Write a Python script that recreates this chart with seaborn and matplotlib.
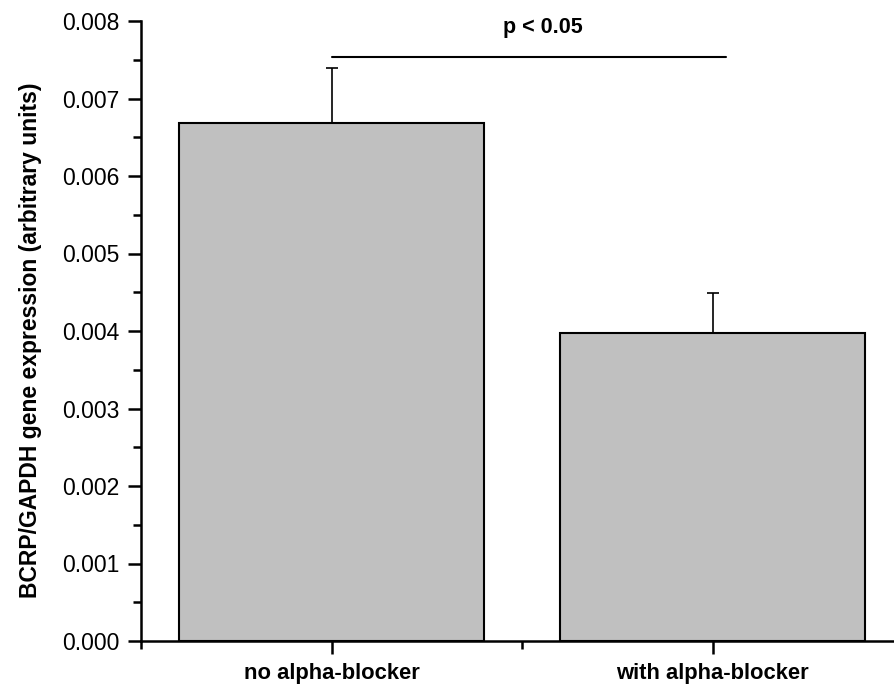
import matplotlib
matplotlib.use("Agg")
import matplotlib.pyplot as plt
from matplotlib.ticker import MultipleLocator, FixedLocator, FormatStrFormatter
import seaborn as sns
import pandas as pd

categories = ["no alpha-blocker", "with alpha-blocker"]
values = [0.00668, 0.00397]
errors = [0.00071, 0.00052]
sig_text = "p < 0.05"
sig_level = 0.00753
ylabel = "BCRP/GAPDH gene expression (arbitrary units)"

sns.set_theme(style="ticks")
plt.rcParams["font.family"] = ["Liberation Sans", "DejaVu Sans"]
plt.rcParams["text.color"] = "black"
plt.rcParams["axes.labelcolor"] = "black"
plt.rcParams["xtick.color"] = "black"
plt.rcParams["ytick.color"] = "black"
plt.rcParams["axes.edgecolor"] = "black"

df = pd.DataFrame({"group": categories, "value": values})

fig = plt.figure(figsize=(8.94, 6.84), dpi=100)
ax = fig.add_axes([141/894, 43/684, 762/894, 620/684])

sns.barplot(data=df, x="group", y="value", ax=ax, color="#c0c0c0",
            edgecolor="black", linewidth=1.5, width=0.8, errorbar=None,
            saturation=1)
ax.errorbar(x=[0, 1], y=values, yerr=[[0, 0], errors], fmt="none",
            ecolor="black", elinewidth=1.2, capsize=4, capthick=1.2)

ax.plot([0, 1.035], [sig_level, sig_level], color="black", lw=1.5)
ax.text(0.555, 0.00792, sig_text, ha="center", va="center",
        fontsize=15.5, fontweight="bold", color="black")

ax.set_xlim(-0.5, 1.5)
ax.set_ylim(0, 0.008)
ax.yaxis.set_major_locator(MultipleLocator(0.001))
ax.yaxis.set_minor_locator(MultipleLocator(0.0005))
ax.yaxis.set_major_formatter(FormatStrFormatter("%.3f"))
ax.xaxis.set_minor_locator(FixedLocator([-0.5, 0.5, 1.5]))

ax.set_xlabel("")
ax.set_ylabel(ylabel, fontsize=16.5, fontweight="bold")
ax.yaxis.set_label_coords(-0.130, 0.485)
ax.tick_params(axis="both", which="major", length=9.5, width=1.8)
ax.tick_params(axis="both", which="minor", length=5.5, width=1.8)
ax.tick_params(axis="x", which="major", labelsize=15.8, pad=6)
ax.tick_params(axis="y", which="major", labelsize=16.5, pad=6)
for lbl in ax.get_xticklabels():
    lbl.set_fontweight("bold")

for s in ["top", "right"]:
    ax.spines[s].set_visible(False)
for s in ["left", "bottom"]:
    ax.spines[s].set_linewidth(1.8)

fig.savefig("out.png", dpi=100)
